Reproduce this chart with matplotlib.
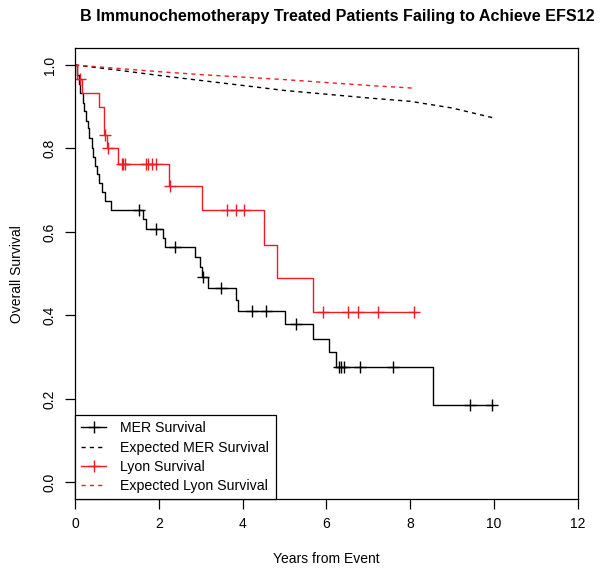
import numpy as np
import matplotlib
matplotlib.use("Agg")
import matplotlib.pyplot as plt
from matplotlib.lines import Line2D

plt.rcParams['font.family'] = ['Liberation Sans', 'DejaVu Sans']

# MER observed survival (event times and KM estimate after each step)
mer_t = [0, 0.05, 0.09, 0.13, 0.18, 0.22, 0.26, 0.30, 0.34, 0.40, 0.44, 0.48, 0.53,
         0.58, 0.65, 0.72, 0.85, 1.62, 1.70, 2.10, 2.14, 2.86, 2.98, 3.04, 3.18,
         3.84, 3.90, 5.00, 5.69, 6.07, 6.24, 8.54, 9.97]
mer_s = [1.0, 0.977, 0.955, 0.932, 0.91, 0.889, 0.867, 0.848, 0.826, 0.80, 0.78, 0.757,
         0.74, 0.718, 0.696, 0.674, 0.652, 0.63, 0.608, 0.585, 0.563, 0.539, 0.515,
         0.491, 0.465, 0.438, 0.41, 0.379, 0.344, 0.312, 0.276, 0.186, 0.186]
mer_cens = [1.53, 1.93, 2.39, 3.06, 3.48, 4.22, 4.56, 5.27, 6.30, 6.35, 6.41, 6.81,
            7.59, 9.43, 9.95]

# Lyon observed survival
lyon_t = [0, 0.05, 0.17, 0.58, 0.70, 0.76, 1.03, 2.25, 3.02, 4.52, 4.81, 5.69, 8.14]
lyon_s = [1.0, 0.967, 0.933, 0.90, 0.833, 0.80, 0.764, 0.71, 0.652, 0.569, 0.489,
          0.409, 0.409]
lyon_cens = [0.12, 0.71, 0.78, 1.11, 1.15, 1.19, 1.69, 1.75, 1.83, 1.93, 2.27, 3.62,
             3.84, 4.03, 5.92, 6.51, 6.75, 7.23, 8.09]

# expected survival curves
exp_mer_t = [0, 1, 2, 3, 4, 5, 6, 7, 8, 9, 10]
exp_mer_s = [1.0, 0.988, 0.975, 0.963, 0.951, 0.939, 0.930, 0.921, 0.913, 0.897, 0.873]
exp_lyon_t = [0, 1, 2, 3, 4, 5, 6, 7, 8, 8.1]
exp_lyon_s = [1.0, 0.992, 0.984, 0.977, 0.971, 0.965, 0.958, 0.951, 0.945, 0.944]

RED = '#ee1c24'


def km_at(ts, ss, x):
    i = np.searchsorted(ts, x, side='right') - 1
    return np.asarray(ss)[i]


fig = plt.figure(figsize=(6.05, 5.75), dpi=100)
ax = fig.add_axes([0.124, 0.132, 0.831, 0.784])

ax.step(mer_t, mer_s, where='post', color='black', lw=1.0)
ax.plot(mer_cens, km_at(mer_t, mer_s, mer_cens), '+', color='black', ms=8, mew=1.0)
ax.plot(exp_mer_t, exp_mer_s, '--', color='black', lw=1.0, dashes=(3, 3))

ax.step(lyon_t, lyon_s, where='post', color=RED, lw=1.0)
ax.plot(lyon_cens, km_at(lyon_t, lyon_s, lyon_cens), '+', color=RED, ms=8, mew=1.0)
ax.plot(exp_lyon_t, exp_lyon_s, '--', color=RED, lw=1.0, dashes=(3, 3))

ax.set_xlim(0, 12)
ax.set_ylim(-0.04, 1.04)
ax.set_xticks([0, 2, 4, 6, 8, 10, 12])
ax.set_yticks([0.0, 0.2, 0.4, 0.6, 0.8, 1.0])
ax.set_yticklabels(['0.0', '0.2', '0.4', '0.6', '0.8', '1.0'], rotation=90, va='center')
ax.tick_params(direction='out', length=7, width=0.9, labelsize=10, pad=6)
for s in ax.spines.values():
    s.set_linewidth(0.9)

ax.set_xlabel('Years from Event', fontsize=10, labelpad=15)
ax.set_ylabel('Overall Survival', fontsize=10, labelpad=14)
fig.text(0.557, 0.972, 'B Immunochemotherapy Treated Patients Failing to Achieve EFS12',
         ha='center', va='center', fontsize=11.6, fontweight='bold')

handles = [
    Line2D([], [], color='black', lw=1.0, marker='+', ms=9, mew=1.0),
    Line2D([], [], color='black', lw=1.0, ls='--', dashes=(3, 3)),
    Line2D([], [], color=RED, lw=1.0, marker='+', ms=9, mew=1.0),
    Line2D([], [], color=RED, lw=1.0, ls='--', dashes=(3, 3)),
]
labels = ['MER Survival', 'Expected MER Survival', 'Lyon Survival', 'Expected Lyon Survival']
leg = ax.legend(handles, labels, loc='lower left', borderaxespad=0, fancybox=False,
                edgecolor='black', fontsize=10.2, handlelength=1.75, handletextpad=1.0,
                labelspacing=0.36, borderpad=0.45, framealpha=1)
leg.get_frame().set_linewidth(0.9)

fig.savefig('out.png', dpi=100)
